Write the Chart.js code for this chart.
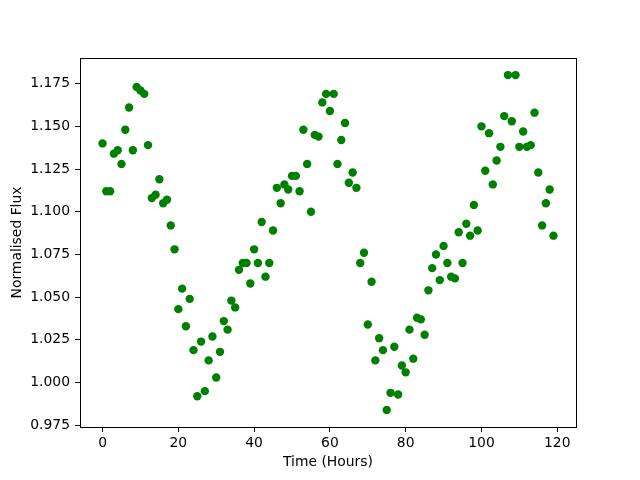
<!DOCTYPE html>
<html>
<head>
<meta charset="utf-8">
<script src="https://cdn.jsdelivr.net/npm/chart.js@4"></script>
<style>
  html, body { margin: 0; padding: 0; background: #fff; }
  #wrap { width: 640px; height: 480px; }
</style>
</head>
<body>
<div id="wrap"><canvas id="fluxChart" width="640" height="480"></canvas></div>
<script>
// Tiempo en horas (0..119)
const hours = [];
for (let h = 0; h < 120; h++) hours.push(h);

// Flujo normalizado
const flux = [
  1.140, 1.112, 1.112, 1.134, 1.136, 1.128, 1.148, 1.161, 1.136, 1.173,
  1.171, 1.169, 1.139, 1.108, 1.110, 1.119, 1.105, 1.107, 1.092, 1.078,
  1.043, 1.055, 1.033, 1.049, 1.019, 0.992, 1.024, 0.995, 1.013, 1.027,
  1.003, 1.018, 1.036, 1.031, 1.048, 1.044, 1.066, 1.070, 1.070, 1.058,
  1.078, 1.070, 1.094, 1.062, 1.070, 1.089, 1.114, 1.105, 1.116, 1.113,
  1.121, 1.121, 1.112, 1.148, 1.128, 1.100, 1.145, 1.144, 1.164, 1.169,
  1.159, 1.169, 1.128, 1.142, 1.152, 1.117, 1.123, 1.114, 1.070, 1.076,
  1.034, 1.059, 1.013, 1.026, 1.019, 0.984, 0.994, 1.021, 0.993, 1.010,
  1.006, 1.031, 1.014, 1.038, 1.037, 1.028, 1.054, 1.067, 1.075, 1.060,
  1.080, 1.070, 1.062, 1.061, 1.088, 1.070, 1.093, 1.086, 1.104, 1.089,
  1.150, 1.124, 1.146, 1.116, 1.130, 1.138, 1.156, 1.180, 1.153, 1.180,
  1.138, 1.147, 1.138, 1.139, 1.158, 1.123, 1.092, 1.105, 1.113, 1.086
];

const xTicks = [0, 20, 40, 60, 80, 100, 120];
const yTicks = [0.975, 1.000, 1.025, 1.050, 1.075, 1.100, 1.125, 1.150, 1.175];

document.addEventListener('DOMContentLoaded', function() {
    const ctx = document.getElementById('fluxChart');

    // Marco completo alrededor del área del gráfico
    const boxPlugin = {
        id: 'box',
        afterDraw(chart) {
            const a = chart.chartArea;
            const c = chart.ctx;
            c.save();
            c.strokeStyle = '#000';
            c.lineWidth = 1;
            c.strokeRect(Math.round(a.left) + 0.5, Math.round(a.top) + 0.5,
                         Math.round(a.right - a.left), Math.round(a.bottom - a.top));
            c.restore();
        }
    };

    const font = { family: 'DejaVu Sans', size: 13.9 };

    new Chart(ctx, {
        type: 'scatter',
        data: {
            datasets: [{
                label: 'Flux',
                data: hours.map((h, i) => ({ x: h, y: flux[i] })),
                backgroundColor: '#008000',
                borderColor: '#008000',
                borderWidth: 0,
                pointRadius: 4.2,
                pointHoverRadius: 4.2
            }]
        },
        options: {
            responsive: false,
            animation: false,
            layout: { padding: { left: 0, top: 58, right: 64, bottom: 0 } },
            plugins: {
                legend: { display: false },
                tooltip: { enabled: false }
            },
            scales: {
                x: {
                    type: 'linear',
                    min: -5.95,
                    max: 124.95,
                    afterFit(scale) { scale.height = 53; },
                    afterBuildTicks(scale) { scale.ticks = xTicks.map(v => ({ value: v })); },
                    grid: { display: true, drawOnChartArea: false, drawTicks: true, tickLength: 5, color: '#000' },
                    border: { display: true, color: '#000' },
                    ticks: { color: '#000', font: font, padding: 3, maxRotation: 0, callback: v => String(v) },
                    title: { display: true, text: 'Time (Hours)', color: '#000', font: font, padding: { top: 0, bottom: 9 } }
                },
                y: {
                    type: 'linear',
                    min: 0.974,
                    max: 1.19,
                    afterFit(scale) { scale.width = 80; },
                    afterBuildTicks(scale) { scale.ticks = yTicks.map(v => ({ value: v })); },
                    grid: { display: true, drawOnChartArea: false, drawTicks: true, tickLength: 5, color: '#000' },
                    border: { display: true, color: '#000' },
                    ticks: { color: '#000', font: font, padding: 5, callback: v => v.toFixed(3) },
                    title: { display: true, text: 'Normalised Flux', color: '#000', font: font, padding: { top: 9, bottom: 0 } }
                }
            }
        },
        plugins: [boxPlugin]
    });
});
</script>
</body>
</html>
